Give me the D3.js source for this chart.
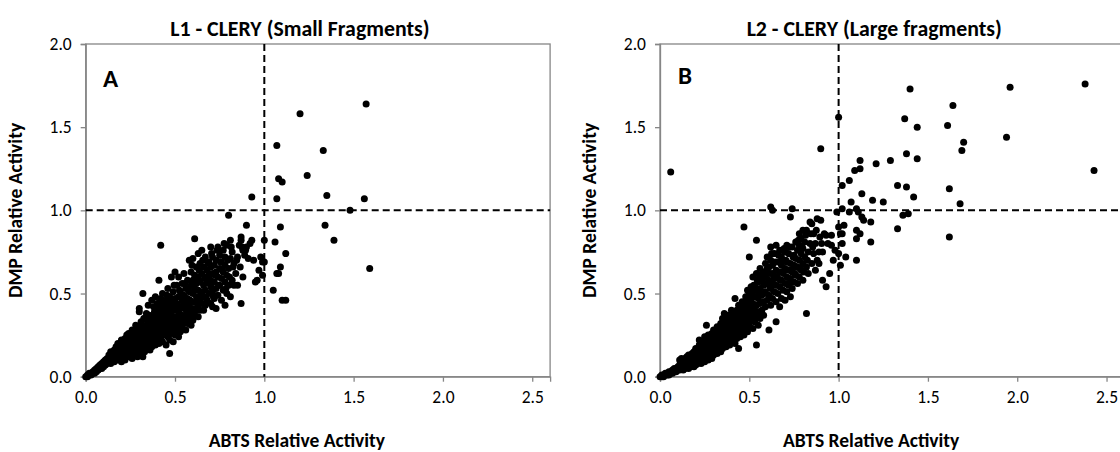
<!DOCTYPE html>
<html>
<head>
<meta charset="utf-8">
<script src="https://cdnjs.cloudflare.com/ajax/libs/d3/7.8.5/d3.min.js"></script>
<style>
  html, body { margin: 0; padding: 0; background: #fff; }
  svg { display: block; font-family: Carlito, Calibri, Lato, sans-serif; }
</style>
</head>
<body>
<div id="chart"></div>
<script>
// Axis ticks and panel labels
const xTicks = [0, 0.5, 1.0, 1.5, 2.0, 2.5];
const yTicks = [0, 0.5, 1.0, 1.5, 2.0];
const panelTitles = ["L1 - CLERY (Small Fragments)", "L2 - CLERY (Large fragments)"];
const panelLetters = ["A", "B"];
const xLabel = "ABTS Relative Activity";
const yLabel = "DMP Relative Activity";

// [ABTS, DMP] relative activity
const smallFragments = [
  [0.00,0.00],[0.01,0.01],[0.01,0.00],[0.02,0.01],[0.02,0.02],[0.03,0.01],[0.03,0.02],[0.04,0.02],[0.04,0.03],[0.05,0.02],
  [0.05,0.04],[0.06,0.03],[0.06,0.05],[0.07,0.04],[0.07,0.06],[0.08,0.05],[0.08,0.07],[0.09,0.05],[0.09,0.08],[0.10,0.06],[0.10,0.09],
  [0.11,0.07],[0.11,0.10],[0.12,0.08],[0.12,0.11],[0.13,0.09],[0.13,0.13],[0.14,0.08],[0.14,0.11],[0.14,0.15],[0.15,0.10],
  [0.15,0.13],[0.16,0.09],[0.16,0.12],[0.16,0.16],[0.17,0.11],[0.17,0.14],[0.17,0.18],[0.18,0.10],[0.18,0.13],[0.18,0.16],
  [0.18,0.20],[0.19,0.12],[0.19,0.15],[0.19,0.19],[0.20,0.09],[0.20,0.14],[0.20,0.17],[0.20,0.22],
  [0.21,0.12],[0.21,0.16],[0.21,0.20],[0.22,0.10],[0.22,0.14],[0.22,0.18],[0.22,0.23],[0.23,0.13],[0.23,0.17],[0.23,0.21],
  [0.23,0.25],[0.24,0.12],[0.24,0.16],[0.24,0.20],[0.24,0.26],[0.25,0.14],[0.25,0.18],[0.25,0.22],[0.25,0.24],[0.26,0.11],
  [0.26,0.15],[0.26,0.19],[0.26,0.23],[0.26,0.28],[0.27,0.13],[0.27,0.17],[0.27,0.21],[0.27,0.25],[0.28,0.15],[0.28,0.19],
  [0.28,0.23],[0.28,0.27],[0.28,0.31],[0.29,0.12],[0.29,0.17],[0.29,0.21],[0.29,0.26],[0.29,0.30],[0.30,0.14],[0.30,0.19],
  [0.30,0.23],[0.30,0.28],[0.30,0.41],[0.30,0.39],
  [0.31,0.16],[0.31,0.21],[0.31,0.25],[0.31,0.29],[0.31,0.33],[0.32,0.12],[0.32,0.18],[0.32,0.23],[0.32,0.27],[0.32,0.31],
  [0.32,0.50],[0.33,0.15],[0.33,0.20],[0.33,0.25],[0.33,0.29],[0.33,0.35],[0.34,0.17],[0.34,0.22],[0.34,0.27],[0.34,0.31],
  [0.34,0.38],[0.35,0.19],[0.35,0.24],[0.35,0.29],[0.35,0.33],[0.35,0.43],[0.36,0.16],[0.36,0.21],[0.36,0.26],[0.36,0.31],
  [0.36,0.36],[0.37,0.18],[0.37,0.24],[0.37,0.28],[0.37,0.34],[0.37,0.46],[0.38,0.21],[0.38,0.26],[0.38,0.31],[0.38,0.37],
  [0.38,0.42],[0.39,0.19],[0.39,0.24],[0.39,0.29],[0.39,0.35],[0.39,0.48],[0.40,0.22],[0.40,0.27],[0.40,0.33],[0.40,0.39],[0.40,0.44],
  [0.41,0.20],[0.41,0.25],[0.41,0.30],[0.41,0.36],[0.41,0.41],[0.41,0.58],[0.42,0.79],[0.42,0.23],[0.42,0.28],[0.42,0.34],
  [0.42,0.39],[0.42,0.47],[0.43,0.21],[0.43,0.31],[0.43,0.37],[0.43,0.43],[0.43,0.50],[0.44,0.25],[0.44,0.29],[0.44,0.35],
  [0.44,0.41],[0.45,0.19],[0.45,0.27],[0.45,0.33],[0.45,0.39],[0.45,0.46],[0.46,0.24],[0.46,0.30],[0.46,0.37],[0.46,0.43],
  [0.46,0.53],[0.47,0.14],[0.47,0.22],[0.47,0.28],[0.47,0.35],[0.47,0.41],[0.47,0.48],[0.48,0.26],[0.48,0.32],[0.48,0.39],
  [0.48,0.45],[0.48,0.60],[0.49,0.21],[0.49,0.30],[0.49,0.36],[0.49,0.43],[0.49,0.51],[0.50,0.25],[0.50,0.33],[0.50,0.40],
  [0.50,0.47],[0.50,0.63],
  [0.51,0.28],[0.51,0.36],[0.51,0.44],[0.51,0.55],[0.52,0.24],[0.52,0.31],[0.52,0.39],[0.52,0.48],[0.52,0.60],[0.53,0.27],
  [0.53,0.34],[0.53,0.42],[0.53,0.51],[0.54,0.30],[0.54,0.37],[0.54,0.46],[0.54,0.56],[0.55,0.33],[0.55,0.41],[0.55,0.49],
  [0.55,0.62],[0.56,0.28],[0.56,0.36],[0.56,0.44],[0.56,0.53],[0.57,0.32],[0.57,0.39],[0.57,0.47],[0.57,0.58],[0.58,0.35],
  [0.58,0.42],[0.58,0.51],[0.58,0.70],[0.59,0.31],[0.59,0.38],[0.59,0.45],[0.59,0.55],[0.59,0.63],[0.60,0.34],[0.60,0.41],
  [0.60,0.50],[0.60,0.58],[0.60,0.71],[0.61,0.83],
  [0.61,0.37],[0.61,0.45],[0.61,0.53],[0.61,0.61],[0.62,0.40],[0.62,0.48],[0.62,0.56],[0.62,0.66],[0.63,0.36],[0.63,0.43],
  [0.63,0.52],[0.63,0.60],[0.63,0.74],[0.64,0.40],[0.64,0.47],[0.64,0.57],[0.64,0.68],[0.65,0.44],[0.65,0.51],[0.65,0.62],
  [0.65,0.76],[0.66,0.40],[0.66,0.48],[0.66,0.55],[0.66,0.66],[0.67,0.43],[0.67,0.52],[0.67,0.60],[0.67,0.72],[0.68,0.46],
  [0.68,0.57],[0.68,0.64],[0.69,0.50],[0.69,0.61],[0.69,0.69],[0.70,0.44],[0.70,0.54],[0.70,0.58],[0.70,0.66],[0.70,0.78],
  [0.71,0.42],[0.71,0.51],[0.71,0.62],[0.71,0.72],[0.72,0.47],[0.72,0.57],[0.72,0.67],[0.73,0.41],[0.73,0.53],[0.73,0.63],
  [0.73,0.70],[0.74,0.49],[0.74,0.60],[0.74,0.78],[0.75,0.55],[0.75,0.65],[0.75,0.73],[0.76,0.46],[0.76,0.59],[0.76,0.69],
  [0.77,0.52],[0.77,0.63],[0.77,0.76],[0.78,0.43],[0.78,0.57],[0.78,0.67],[0.78,0.72],[0.79,0.50],[0.79,0.61],[0.79,0.79],
  [0.80,0.55],[0.80,0.65],[0.80,0.97],[0.81,0.82],[0.81,0.48],[0.81,0.71],
  [0.82,0.58],[0.82,0.75],[0.83,0.55],[0.83,0.68],[0.84,0.62],[0.85,0.55],[0.85,0.72],[0.86,0.79],[0.87,0.44],[0.87,0.82],
  [0.87,0.84],[0.88,0.76],[0.88,0.60],[0.89,0.73],[0.90,0.91],[0.90,0.78],[0.91,0.71],[0.93,0.82],[0.93,1.08],[0.95,0.57],
  [0.96,0.58],[0.99,0.69],[0.99,0.61],[1.00,0.69],[1.00,0.82],
  [1.05,0.52],[1.06,0.81],[1.07,1.39],[1.07,1.07],[1.08,0.62],[1.09,0.66],[1.09,0.90],[1.08,1.19],[1.10,1.17],[1.10,0.46],
  [1.12,0.46],[1.12,0.74],[1.07,0.62],[1.20,1.58],[1.24,1.21],[1.33,1.36],[1.35,1.09],[1.34,0.91],[1.39,0.82],[1.48,1.00],
  [1.56,1.07],[1.57,1.64],[1.59,0.65],
  [0.125,0.10],[0.155,0.115],[0.175,0.125],[0.195,0.17],[0.215,0.14],[0.235,0.19],[0.245,0.23],[0.265,0.21],[0.275,0.15],
  [0.285,0.25],[0.295,0.19],[0.305,0.26],[0.315,0.19],[0.325,0.35],[0.335,0.22],[0.345,0.29],[0.355,0.37],[0.365,0.23],
  [0.375,0.31],[0.385,0.39],[0.395,0.26],[0.405,0.31],[0.415,0.45],[0.425,0.26],[0.435,0.40],[0.445,0.32],[0.455,0.49],
  [0.465,0.27],[0.475,0.44],[0.485,0.35],[0.495,0.55],[0.505,0.29],[0.515,0.41],[0.525,0.52],[0.535,0.31],[0.545,0.43],
  [0.555,0.56],[0.565,0.40],[0.575,0.53],[0.585,0.46],[0.595,0.67],[0.605,0.38],[0.615,0.57],[0.625,0.44],[0.635,0.64],
  [0.645,0.50],[0.655,0.70],[0.665,0.59],[0.675,0.47],[0.685,0.68],[0.695,0.56],[0.705,0.74],[0.715,0.48],[0.725,0.61],
  [0.735,0.76],[0.745,0.55],[0.755,0.69],[0.765,0.64],[0.775,0.80],[0.785,0.53],[0.795,0.70],[0.805,0.60],[0.815,0.78],
  [0.825,0.66],[0.845,0.70],[0.865,0.66],[0.875,0.78],[0.895,0.76],[0.92,0.80],[0.94,0.70],[0.97,0.64],[0.98,0.72]
];

// [ABTS, DMP] relative activity
const largeFragments = [
  [0.00,0.00],[0.01,0.00],[0.01,0.01],[0.02,0.00],[0.02,0.01],[0.03,0.01],[0.03,0.02],[0.04,0.01],[0.04,0.02],[0.05,0.01],
  [0.05,0.03],[0.06,0.02],[0.06,0.03],[0.06,1.23],[0.07,0.02],[0.07,0.04],[0.08,0.03],[0.08,0.05],[0.09,0.03],[0.09,0.05],
  [0.10,0.04],[0.10,0.06],
  [0.11,0.04],[0.11,0.07],[0.11,0.10],[0.12,0.05],[0.12,0.08],[0.12,0.11],[0.13,0.04],[0.13,0.06],[0.13,0.09],[0.14,0.05],
  [0.14,0.08],[0.14,0.11],[0.15,0.06],[0.15,0.09],[0.15,0.12],[0.16,0.05],[0.16,0.07],[0.16,0.10],[0.16,0.13],[0.17,0.06],
  [0.17,0.09],[0.17,0.12],[0.18,0.07],[0.18,0.10],[0.18,0.14],[0.19,0.06],[0.19,0.08],[0.19,0.11],[0.19,0.15],[0.20,0.07],
  [0.20,0.10],[0.20,0.13],[0.20,0.17],
  [0.21,0.08],[0.21,0.12],[0.21,0.16],[0.22,0.09],[0.22,0.13],[0.22,0.19],[0.22,0.22],[0.23,0.08],[0.23,0.11],[0.23,0.15],
  [0.23,0.18],[0.24,0.10],[0.24,0.13],[0.24,0.17],[0.24,0.21],[0.25,0.09],[0.25,0.12],[0.25,0.15],[0.25,0.19],[0.25,0.24],
  [0.26,0.11],[0.26,0.14],[0.26,0.18],[0.26,0.22],[0.26,0.31],[0.27,0.10],[0.27,0.13],[0.27,0.16],[0.27,0.20],[0.27,0.25],
  [0.28,0.12],[0.28,0.15],[0.28,0.19],[0.28,0.23],[0.29,0.11],[0.29,0.14],[0.29,0.17],[0.29,0.21],[0.29,0.26],[0.30,0.13],
  [0.30,0.16],[0.30,0.20],[0.30,0.24],[0.30,0.28],
  [0.31,0.15],[0.31,0.19],[0.31,0.23],[0.31,0.27],[0.32,0.14],[0.32,0.17],[0.32,0.21],[0.32,0.25],[0.32,0.30],[0.33,0.16],
  [0.33,0.20],[0.33,0.24],[0.33,0.28],[0.34,0.15],[0.34,0.18],[0.34,0.22],[0.34,0.26],[0.34,0.32],[0.35,0.17],[0.35,0.21],
  [0.35,0.25],[0.35,0.29],[0.35,0.35],[0.36,0.19],[0.36,0.23],[0.36,0.27],[0.36,0.31],[0.36,0.38],[0.37,0.18],[0.37,0.22],
  [0.37,0.26],[0.37,0.30],[0.37,0.34],[0.38,0.20],[0.38,0.24],[0.38,0.28],[0.38,0.33],[0.38,0.37],[0.39,0.19],[0.39,0.23],
  [0.39,0.27],[0.39,0.31],[0.39,0.36],[0.40,0.21],[0.40,0.26],[0.40,0.30],[0.40,0.35],[0.40,0.40],
  [0.41,0.22],[0.41,0.27],[0.41,0.33],[0.41,0.38],[0.42,0.20],[0.42,0.25],[0.42,0.30],[0.42,0.36],[0.42,0.47],[0.43,0.23],
  [0.43,0.28],[0.43,0.34],[0.43,0.40],[0.44,0.17],[0.44,0.26],[0.44,0.31],[0.44,0.37],[0.44,0.43],[0.45,0.24],[0.45,0.29],
  [0.45,0.35],[0.45,0.41],[0.46,0.27],[0.46,0.33],[0.46,0.39],[0.46,0.45],[0.47,0.25],[0.47,0.31],[0.47,0.37],[0.47,0.43],
  [0.47,0.90],[0.48,0.29],[0.48,0.35],[0.48,0.41],[0.48,0.48],[0.49,0.27],[0.49,0.33],[0.49,0.39],[0.49,0.45],[0.49,0.52],
  [0.50,0.31],[0.50,0.37],[0.50,0.43],[0.50,0.50],[0.50,0.72],
  [0.51,0.34],[0.51,0.41],[0.51,0.47],[0.51,0.54],[0.52,0.29],[0.52,0.38],[0.52,0.44],[0.52,0.51],[0.52,0.60],[0.53,0.33],
  [0.53,0.40],[0.53,0.48],[0.53,0.55],[0.54,0.19],[0.54,0.36],[0.54,0.43],[0.54,0.52],[0.54,0.62],[0.54,0.82],[0.55,0.31],
  [0.55,0.39],[0.55,0.47],[0.55,0.57],[0.56,0.35],[0.56,0.44],[0.56,0.53],[0.56,0.61],[0.56,0.65],[0.57,0.40],[0.57,0.49],
  [0.57,0.58],[0.58,0.37],[0.58,0.45],[0.58,0.55],[0.58,0.63],[0.59,0.42],[0.59,0.51],[0.59,0.60],[0.59,0.68],[0.60,0.46],
  [0.60,0.56],[0.60,0.65],[0.60,0.72],
  [0.61,0.28],[0.61,0.49],[0.61,0.58],[0.61,0.66],[0.62,0.43],[0.62,0.53],[0.62,0.62],[0.62,0.70],[0.62,0.78],[0.62,1.02],
  [0.63,0.47],[0.63,0.57],[0.63,0.67],[0.63,1.00],[0.64,0.51],[0.64,0.60],[0.64,0.74],[0.65,0.33],[0.65,0.45],[0.65,0.55],
  [0.65,0.64],[0.65,0.79],[0.66,0.50],[0.66,0.59],[0.66,0.69],[0.67,0.42],[0.67,0.54],[0.67,0.63],[0.67,0.76],[0.68,0.47],
  [0.68,0.58],[0.68,0.67],[0.68,0.72],[0.69,0.52],[0.69,0.62],[0.69,0.70],[0.70,0.46],[0.70,0.56],[0.70,0.65],[0.70,0.75],
  [0.71,0.51],[0.71,0.60],[0.71,0.69],[0.71,0.79],[0.72,0.55],[0.72,0.64],[0.72,0.74],[0.73,0.48],[0.73,0.59],[0.73,0.68],
  [0.73,0.96],[0.74,1.01],[0.74,0.53],[0.74,0.63],[0.74,0.78],[0.75,0.57],[0.75,0.67],[0.75,0.73],[0.76,0.61],[0.76,0.71],
  [0.76,0.81],[0.77,0.56],[0.77,0.66],[0.77,0.76],[0.78,0.60],[0.78,0.70],[0.78,0.79],[0.78,0.86],[0.79,0.64],[0.79,0.74],
  [0.79,0.83],[0.80,0.58],[0.80,0.68],[0.80,0.77],[0.80,0.88],[0.82,0.38],
  [0.81,0.72],[0.81,0.81],[0.82,0.66],[0.82,0.88],[0.83,0.62],[0.83,0.75],[0.84,0.80],[0.84,0.93],[0.85,0.68],[0.85,0.92],
  [0.86,0.74],[0.86,0.86],[0.87,0.64],[0.87,0.80],[0.88,0.95],[0.88,0.70],[0.89,0.68],[0.89,0.75],[0.90,0.94],[0.90,1.37],
  [0.91,0.75],[0.91,0.58],[0.92,0.86],[0.93,0.54],[0.93,0.85],[0.96,0.85],[0.96,0.79],[0.97,0.70],[0.99,0.99],[1.00,0.90],
  [1.00,1.56],
  [1.00,0.74],[1.01,0.67],[1.01,0.86],[1.02,0.80],[1.02,0.86],[1.02,1.01],[1.02,1.15],[1.03,0.91],[1.04,0.72],[1.06,1.18],
  [1.06,0.99],[1.07,1.05],[1.09,1.24],[1.10,1.01],[1.10,0.83],[1.10,0.88],[1.10,0.70],[1.11,0.99],[1.12,1.25],[1.12,0.86],
  [1.12,1.30],[1.13,0.96],[1.13,1.10],[1.14,0.94],[1.18,0.93],[1.18,0.81],[1.19,1.06],[1.21,1.28],[1.25,1.05],[1.29,1.30],
  [1.33,0.89],[1.33,1.15],[1.36,0.97],[1.37,1.55],[1.38,1.14],[1.38,1.34],[1.39,0.98],[1.40,1.73],[1.42,1.08],[1.44,1.31],
  [1.44,1.50],[1.61,1.51],[1.62,0.84],[1.62,1.13],[1.64,1.63],[1.68,1.04],[1.69,1.36],[1.70,1.41],[1.94,1.44],[1.96,1.74],
  [2.38,1.76],[2.43,1.24],
  [0.115,0.085],[0.135,0.075],[0.145,0.10],[0.165,0.085],[0.175,0.105],[0.185,0.12],[0.195,0.095],[0.205,0.145],[0.215,0.10],
  [0.225,0.165],[0.235,0.13],[0.245,0.19],[0.255,0.17],[0.265,0.12],[0.275,0.22],[0.285,0.17],[0.295,0.23],[0.305,0.18],
  [0.315,0.25],[0.325,0.19],[0.335,0.26],[0.345,0.20],[0.355,0.31],[0.365,0.25],[0.375,0.32],[0.385,0.22],[0.395,0.34],
  [0.405,0.28],[0.415,0.36],[0.425,0.32],[0.435,0.25],[0.445,0.40],[0.455,0.32],[0.465,0.42],[0.475,0.34],[0.485,0.45],
  [0.495,0.29],[0.505,0.46],[0.515,0.37],[0.525,0.55],[0.535,0.43],[0.545,0.58],[0.555,0.50],[0.565,0.38],[0.575,0.62],
  [0.585,0.50],[0.595,0.56],[0.605,0.62],[0.615,0.54],[0.625,0.74],[0.635,0.62],[0.645,0.69],[0.655,0.60],[0.665,0.73],
  [0.675,0.58],[0.685,0.63],[0.695,0.77],[0.705,0.70],[0.715,0.56],[0.725,0.78],[0.735,0.64],[0.745,0.72],[0.755,0.62],
  [0.765,0.66],[0.775,0.82],[0.785,0.65],[0.795,0.78],[0.805,0.63],[0.815,0.85],[0.825,0.70],[0.845,0.86],[0.855,0.78],
  [0.875,0.88],[0.895,0.84],[0.905,0.80],[0.94,0.80],[0.95,0.62],[0.98,0.76]
];

const width = 1120, height = 452;
const axisColor = "#868686";

const svg = d3.select("#chart").append("svg")
  .attr("width", width)
  .attr("height", height);

// plot areas of the two panels (pixels)
const panels = [
  { left: 85.7, data: smallFragments, title: panelTitles[0], letter: panelLetters[0], letterY: 87 },
  { left: 660, data: largeFragments, title: panelTitles[1], letter: panelLetters[1], letterY: 84 }
];
const plotW = 464.4, plotTop = 44, plotBottom = 376.7;

panels.forEach(p => {
  const x = d3.scaleLinear().domain([0, 2.6]).range([p.left, p.left + plotW]);
  const y = d3.scaleLinear().domain([0, 2]).range([plotBottom, plotTop]);
  // titles sit a little left of the plot centre (centred on the chart area)
  const cx = p.left + plotW / 2 - 18;

  // frame
  svg.append("rect")
    .attr("x", x(0)).attr("y", y(2))
    .attr("width", x(2.6) - x(0)).attr("height", y(0) - y(2))
    .attr("fill", "none")
    .attr("stroke", axisColor)
    .attr("stroke-width", 1.3);

  // x axis
  const gx = svg.append("g")
    .attr("transform", `translate(0,${plotBottom})`)
    .call(d3.axisBottom(x).tickValues(xTicks).tickSize(5).tickPadding(9).tickFormat(d3.format(".1f")));
  // y axis
  const gy = svg.append("g")
    .attr("transform", `translate(${p.left},0)`)
    .call(d3.axisLeft(y).tickValues(yTicks).tickSize(5).tickPadding(9).tickFormat(d3.format(".1f")));

  [gx, gy].forEach(g => {
    g.select(".domain").attr("stroke", axisColor).attr("stroke-width", 1.3);
    g.selectAll(".tick line").attr("stroke", axisColor).attr("stroke-width", 1.3);
    g.selectAll(".tick text")
      .attr("fill", "#000")
      .style("font-size", "17.5px")
      .style("font-family", "Carlito, Calibri, Lato, sans-serif");
  });

  // reference lines at 1.0
  svg.append("line")
    .attr("x1", x(1)).attr("x2", x(1))
    .attr("y1", y(2)).attr("y2", y(0))
    .attr("stroke", "#000").attr("stroke-width", 2)
    .attr("stroke-dasharray", "7,4");
  svg.append("line")
    .attr("x1", x(0)).attr("x2", x(2.6))
    .attr("y1", y(1)).attr("y2", y(1))
    .attr("stroke", "#000").attr("stroke-width", 2)
    .attr("stroke-dasharray", "7,4");

  // points
  svg.append("g")
    .selectAll("circle")
    .data(p.data)
    .join("circle")
    .attr("cx", d => x(d[0]))
    .attr("cy", d => y(d[1]))
    .attr("r", 3.5)
    .attr("fill", "#000");

  // titles
  svg.append("text")
    .attr("x", cx).attr("y", 36)
    .attr("text-anchor", "middle")
    .style("font-weight", "bold").style("font-size", "21.8px")
    .text(p.title);

  svg.append("text")
    .attr("x", x(0) + 25).attr("y", p.letterY)
    .attr("text-anchor", "middle")
    .style("font-weight", "bold").style("font-size", "25px")
    .text(p.letter);

  svg.append("text")
    .attr("x", cx - 3).attr("y", 447)
    .attr("text-anchor", "middle")
    .style("font-weight", "bold").style("font-size", "19.5px")
    .text(xLabel);

  svg.append("text")
    .attr("transform", `translate(${p.left - 64},${(plotTop + plotBottom) / 2}) rotate(-90)`)
    .attr("text-anchor", "middle")
    .style("font-weight", "bold").style("font-size", "19.5px")
    .text(yLabel);
});
</script>
</body>
</html>
